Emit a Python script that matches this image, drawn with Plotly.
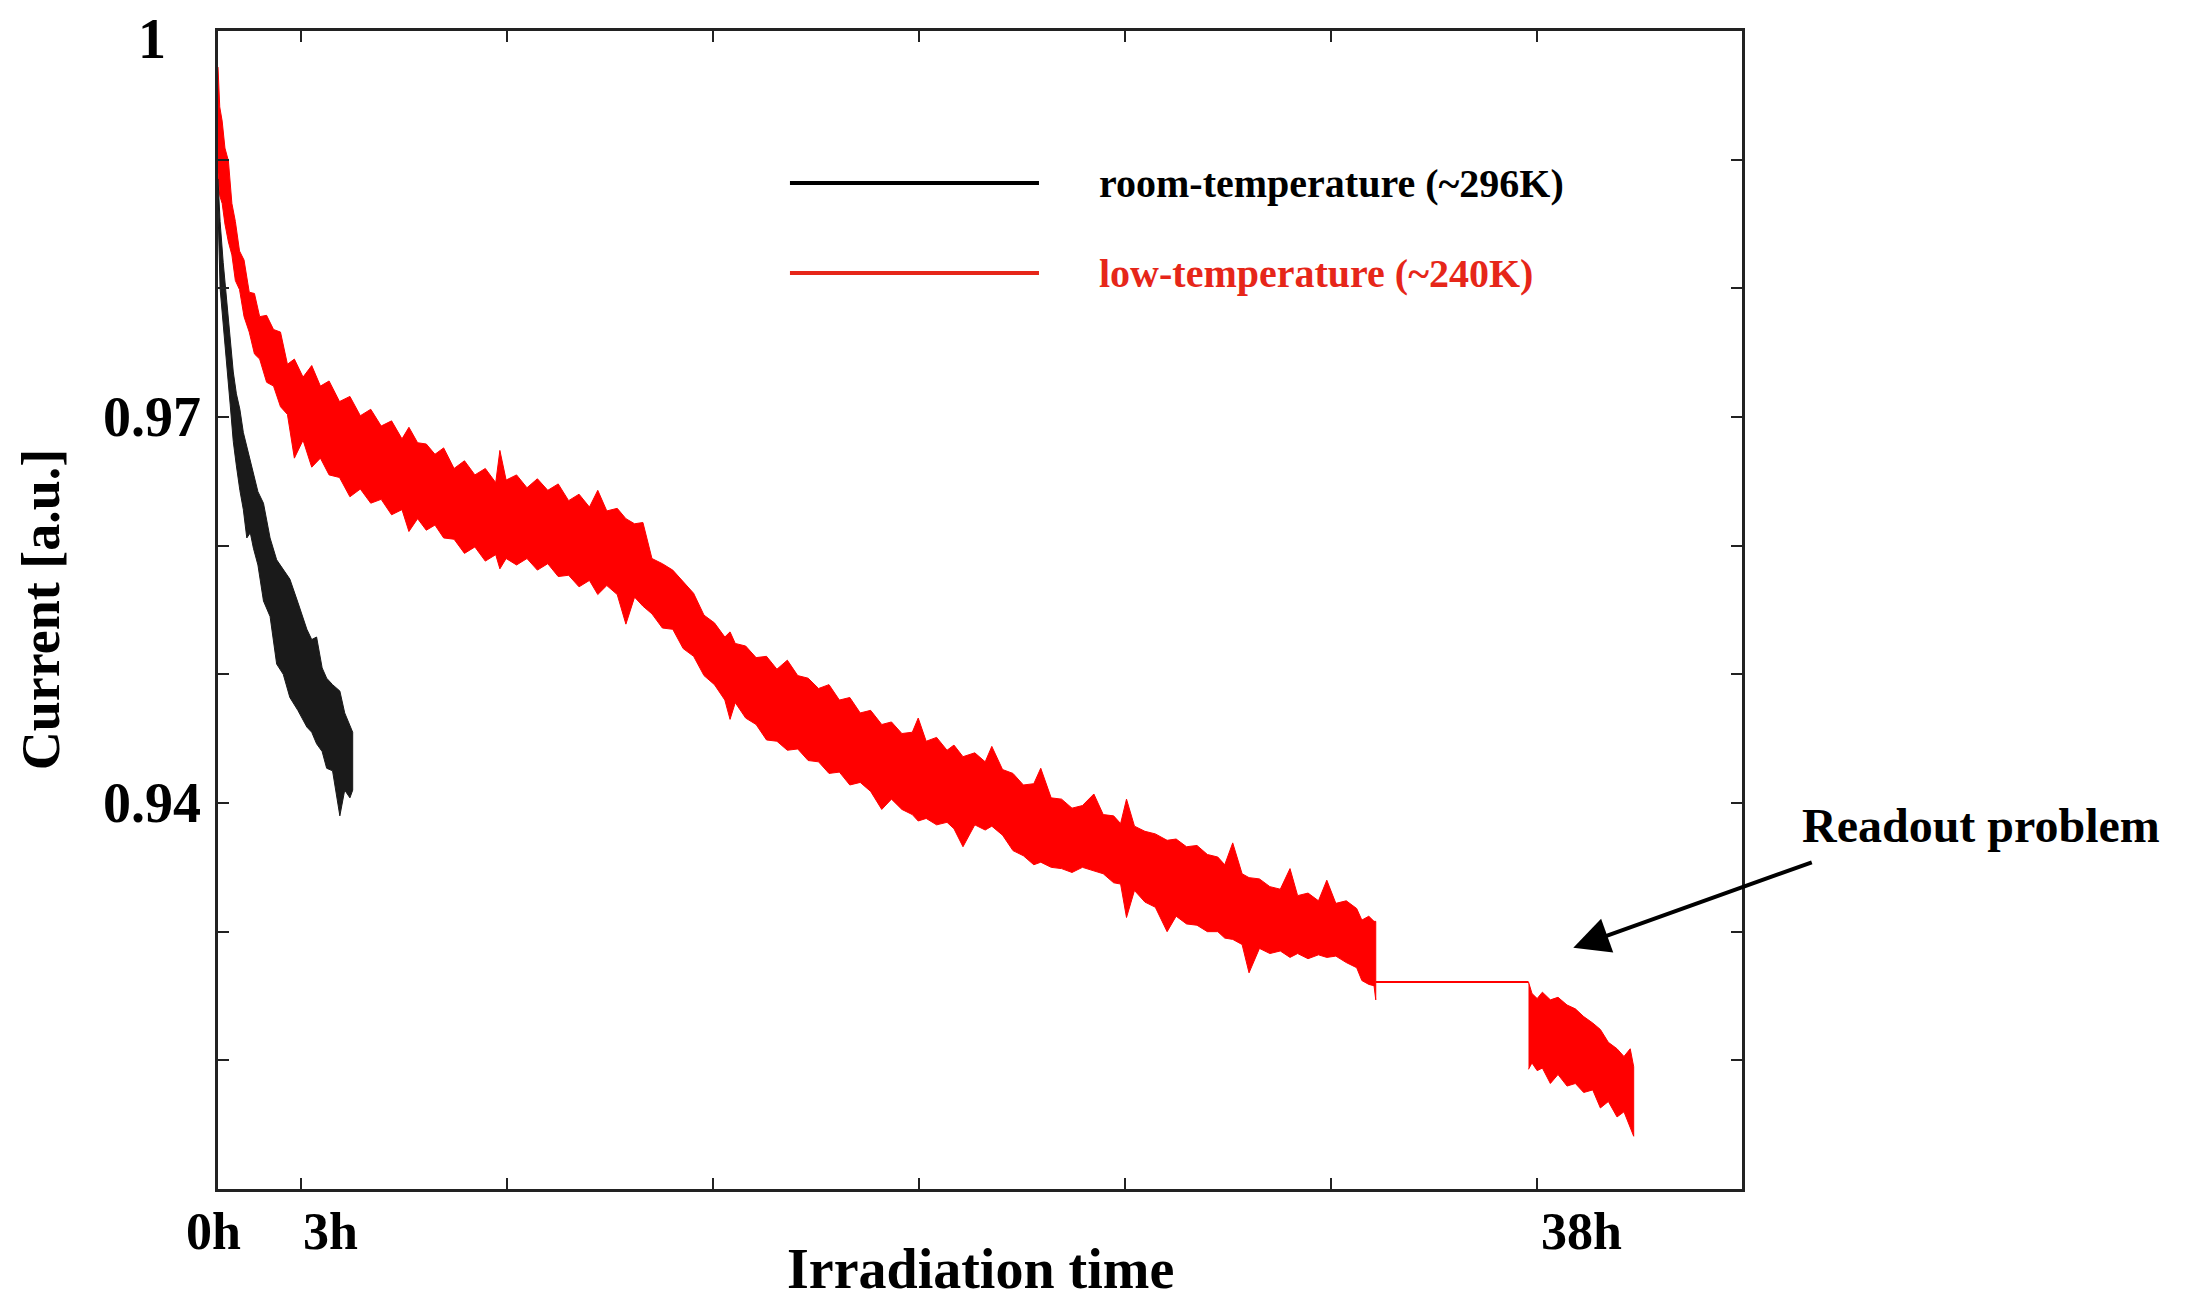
"""Current decay under irradiation: room vs low temperature"""

import plotly.graph_objects as go

# --- values (hours, normalised current) ---
# low-temperature run, first part (upper / lower edge of the noisy trace)
red_t = [0, 0.05, 0.12, 0.2, 0.3, 0.4, 0.5, 0.62, 0.75, 0.9, 1.05, 1.2, 1.4, 1.6, 1.8,
         2.0, 2.2, 2.45, 2.7, 2.95, 3.2, 3.5, 3.8, 4.1, 4.4, 4.7, 5.0, 5.3, 5.5, 5.75,
         6.0, 6.25, 6.5, 6.8, 7.1, 7.4, 7.7, 8.0, 8.12, 8.3, 8.6, 8.9, 9.2, 9.5, 9.8,
         10.1, 10.4, 10.7, 10.94, 11.2, 11.5, 11.75, 12.0, 12.24, 12.5, 12.8, 13.1, 13.4,
         13.7, 14.0, 14.3, 14.6, 14.75, 14.9, 15.2, 15.5, 15.8, 16.1, 16.4, 16.7, 17.0,
         17.3, 17.6, 17.9, 18.2, 18.5, 18.8, 19.12, 19.4, 19.7, 20.0, 20.17, 20.4, 20.7,
         21.0, 21.2, 21.46, 21.8, 22.1, 22.29, 22.6, 22.9, 23.2, 23.5, 23.7, 24.0, 24.3,
         24.6, 24.9, 25.23, 25.5, 25.8, 26.0, 26.17, 26.4, 26.7, 27.0, 27.34, 27.6, 27.9,
         28.2, 28.5, 28.8, 29.0, 29.23, 29.5, 29.7, 30.0, 30.3, 30.6, 30.88, 31.1, 31.4,
         31.7, 31.94, 32.2, 32.5, 32.8, 32.95, 33.15, 33.3, 33.35]
red_hi = [.9972, .9941, .9930, .9909, .9899, .9866, .9852, .9829, .9822, .9797, .9796,
          .9778, .9779, .9768, .9766, .9741, .9745, .9731, .9740, .9724, .9728, .9712,
          .9716, .9701, .9706, .9693, .9697, .9683, .9692, .9680, .9679, .9671, .9676,
          .9660, .9666, .9655, .9660, .9649, .9674, .9651, .9655, .9645, .9652, .9643,
          .9648, .9635, .9640, .9630, .9643, .9627, .9629, .9621, .9617, .9618, .9590,
          .9586, .9581, .9572, .9563, .9546, .9540, .9529, .9533, .9524, .9522, .9513,
          .9514, .9504, .9511, .9499, .9497, .9489, .9492, .9480, .9482, .9470, .9472,
          .9461, .9463, .9454, .9455, .9466, .9448, .9451, .9441, .9445, .9436, .9439,
          .9432, .9444, .9426, .9423, .9414, .9415, .9427, .9404, .9403, .9396, .9398,
          .9407, .9391, .9390, .9384, .9403, .9382, .9378, .9376, .9371, .9372, .9366,
          .9367, .9360, .9358, .9352, .9369, .9345, .9342, .9341, .9335, .9333, .9349,
          .9328, .9330, .9324, .9340, .9322, .9324, .9318, .9309, .9312, .9308, .9308]
red_lo = [.9890, .9872, .9866, .9850, .9836, .9826, .9806, .9799, .9778, .9766, .9749,
          .9745, .9727, .9724, .9708, .9702, .9668, .9682, .9661, .9668, .9655, .9653,
          .9638, .9644, .9633, .9636, .9624, .9628, .9611, .9621, .9612, .9616, .9606,
          .9605, .9594, .9599, .9588, .9593, .9582, .9590, .9585, .9590, .9581, .9586,
          .9576, .9577, .9568, .9573, .9562, .9569, .9562, .9539, .9560, .9553, .9547,
          .9536, .9535, .9520, .9514, .9499, .9492, .9480, .9465, .9478, .9466, .9461,
          .9449, .9448, .9441, .9442, .9433, .9432, .9423, .9424, .9414, .9416, .9409,
          .9395, .9403, .9395, .9391, .9386, .9388, .9383, .9385, .9380, .9366, .9383,
          .9379, .9382, .9375, .9363, .9359, .9352, .9354, .9350, .9349, .9346, .9350,
          .9347, .9345, .9338, .9337, .9311, .9332, .9323, .9319, .9300, .9312, .9306,
          .9305, .9300, .9300, .9295, .9294, .9290, .9268, .9287, .9283, .9285, .9280,
          .9283, .9279, .9282, .9280, .9281, .9276, .9272, .9262, .9259, .9258, .9247]

# readout problem: flat value held by the logger
gap_t = [33.35, 37.75]
gap_v = [.92609, .92609]

# low-temperature run, after the readout gap
red2_t = [37.75, 37.85, 38.0, 38.15, 38.38, 38.6, 38.86, 39.1, 39.34, 39.6, 39.82,
          40.05, 40.3, 40.5, 40.68, 40.78]
red2_hi = [.92609, .9252, .9248, .9253, .9247, .9249, .9243, .9240, .9234, .9229,
           .9224, .9214, .9209, .9203, .9209, .9195]
red2_lo = [.9193, .9198, .9192, .9194, .9182, .9189, .9180, .9182, .9175, .9177,
           .9163, .9168, .9156, .9160, .9148, .9141]

# room-temperature run
black_t = [0, 0.06, 0.15, 0.25, 0.35, 0.44, 0.53, 0.63, 0.73, 0.83, 0.93, 1.02, 1.15,
           1.31, 1.5, 1.69, 1.88, 2.07, 2.3, 2.56, 2.7, 2.84, 3.0, 3.13, 3.3, 3.51,
           3.65, 3.8, 3.88]
black_hi = [.9885, .9852, .9820, .9790, .9760, .9735, .9718, .9706, .9688, .9677,
            .9668, .9658, .9642, .9633, .9606, .9589, .9581, .9574, .9556, .9535,
            .9527, .9529, .9505, .9497, .9492, .9487, .9470, .9461, .9455]
black_lo = [.9862, .9800, .9770, .9741, .9710, .9681, .9662, .9643, .9628, .9606,
            .9610, .9598, .9585, .9557, .9545, .9508, .9500, .9482, .9472, .9459,
            .9455, .9446, .9440, .9427, .9425, .9390, .9410, .9404, .9410]

x_ticks = [2.4, 8.33, 14.27, 20.2, 26.13, 32.07, 38.0]
x_labels = {0: "0h", 2.4: "3h", 38.0: "38h"}
y_labels = [1.0, 0.97, 0.94]
series_names = ["room-temperature (~296K)", "low-temperature (~240K)"]

RED = "#ff0000"
BLACK = "#1a1a1a"
FONT = "Liberation Serif"


def band(t, hi, lo, color):
    # noisy trace drawn as the area between its upper and lower edge
    return go.Scatter(
        x=list(t) + list(t)[::-1], y=list(hi) + list(lo)[::-1],
        mode="lines", fill="toself", fillcolor=color,
        line=dict(color=color, width=1), showlegend=False, hoverinfo="skip",
    )


fig = go.Figure()
fig.add_trace(band(red_t, red_hi, red_lo, RED))
fig.add_trace(go.Scatter(x=gap_t, y=gap_v, mode="lines",
                         line=dict(color=RED, width=2), showlegend=False))
fig.add_trace(band(red2_t, red2_hi, red2_lo, RED))
fig.add_trace(band(black_t, black_hi, black_lo, BLACK))

axis_style = dict(showline=True, mirror="ticks", linecolor="#222", linewidth=2.5,
                  ticks="inside", ticklen=11, tickwidth=2, tickcolor="#222",
                  showgrid=False, zeroline=False, showticklabels=False)

fig.update_xaxes(range=[0, 43.9], tickmode="array", tickvals=x_ticks, **axis_style)
fig.update_yaxes(range=[0.91, 1.0], tickmode="linear", tick0=0.91, dtick=0.01,
                 **axis_style)

xfont = dict(family=FONT, size=52, color="black", weight="bold")
yfont = dict(family=FONT, size=56, color="black", weight="bold")

# tick labels (placed like in the original, not right-aligned)
shifts = {0: -5, 2.4: 29, 38.0: 44}
for xv, txt in x_labels.items():
    fig.add_annotation(x=xv, y=-0.037, xref="x", yref="paper", text=txt,
                       showarrow=False, font=xfont, xshift=shifts[xv],
                       xanchor="center", yanchor="middle")
for yv in y_labels:
    # the top label sits right at the page edge, nudge it down a little
    fig.add_annotation(x=-0.0433, y=yv, xref="paper", yref="y",
                       text=f"{yv:g}", showarrow=False, font=yfont,
                       xanchor="center", yanchor="middle",
                       yshift=-8 if yv == 1.0 else 0)

# axis titles
fig.add_annotation(x=0.5, y=-0.069, xref="paper", yref="paper",
                   text="Irradiation time", showarrow=False,
                   font=dict(family=FONT, size=56, color="black", weight="bold"),
                   yanchor="middle")
fig.add_annotation(x=-0.116, y=0.5, xref="paper", yref="paper",
                   text="Current [a.u.]", textangle=-90, showarrow=False,
                   font=dict(family=FONT, size=54, color="black", weight="bold"),
                   xanchor="center")

# hand-drawn legend
for name, col, yl in zip(series_names, ["black", "#e62619"], [0.8687, 0.7910]):
    fig.add_shape(type="line", xref="paper", yref="paper",
                  x0=0.3753, x1=0.5387, y0=yl, y1=yl,
                  line=dict(color=col, width=4))
    fig.add_annotation(x=0.5768, y=yl, xref="paper", yref="paper", text=name,
                       showarrow=False, xanchor="left", yanchor="middle",
                       font=dict(family=FONT, size=40, color=col, weight="bold"))

# readout problem note with arrow
fig.add_annotation(x=1.157, y=0.3135, xref="paper", yref="paper",
                   text="Readout problem", showarrow=False,
                   font=dict(family=FONT, size=48, color="black", weight="bold"),
                   xanchor="center", yanchor="middle")
fig.add_annotation(x=39.04, y=0.92875, xref="x", yref="y", text="",
                   showarrow=True, arrowhead=2, arrowsize=1.8, arrowwidth=4,
                   arrowcolor="black", ax=240, ay=-86)

# page body adds 8px offset, so the figure is 8px smaller than the window
fig.update_layout(
    width=2184, height=1296,
    margin=dict(l=210, r=450, t=23, b=115),
    plot_bgcolor="white", paper_bgcolor="white",
    showlegend=False,
)

fig.write_html("out.html")
